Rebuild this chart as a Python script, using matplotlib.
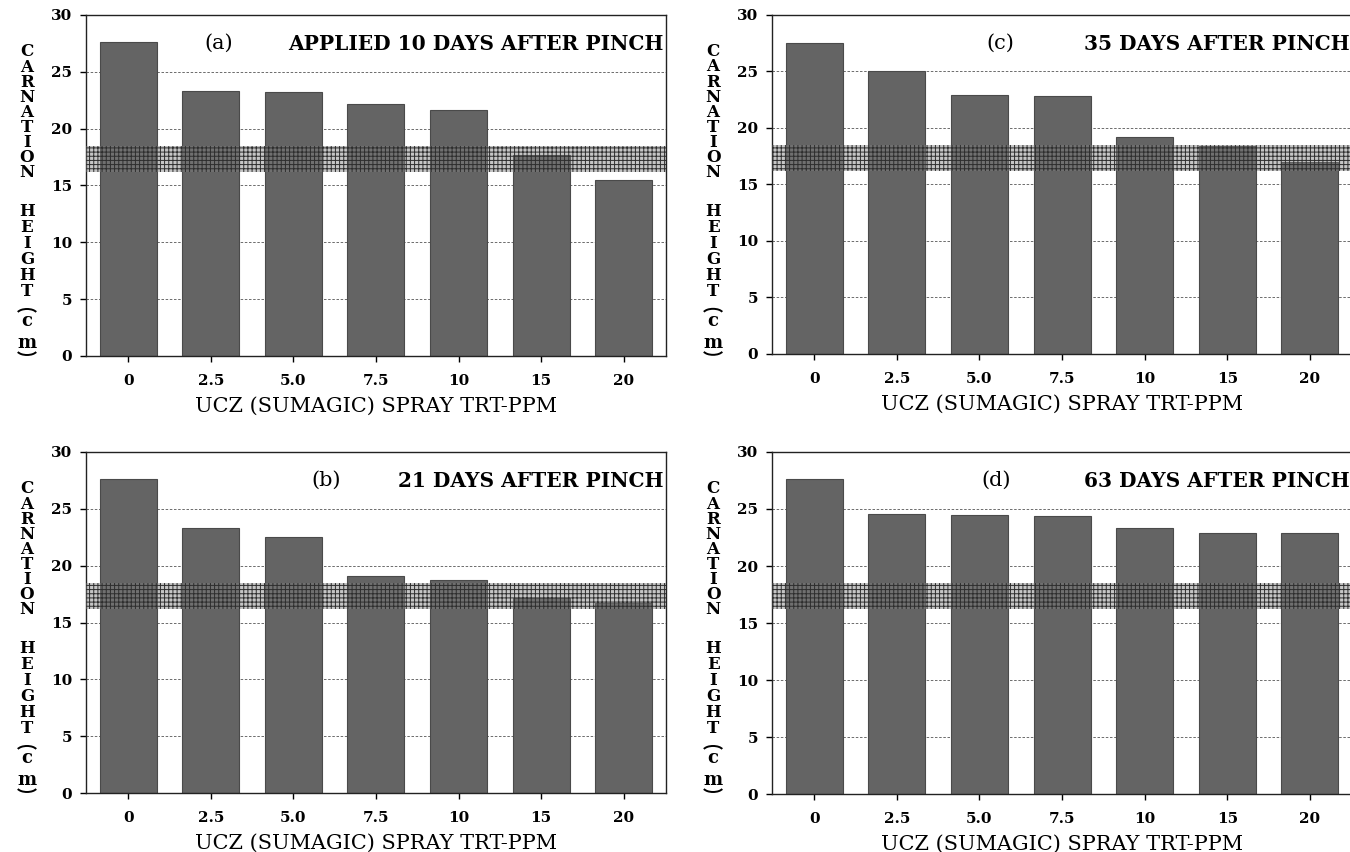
import matplotlib
matplotlib.use("Agg")
import matplotlib.pyplot as plt
from matplotlib.patches import Arc
import numpy as np

plt.rcParams['font.family'] = ['DejaVu Serif']
plt.rcParams['hatch.linewidth'] = 0.7

categories = ["0", "2.5", "5.0", "7.5", "10", "15", "20"]
heights_a = [27.6, 23.3, 23.2, 22.2, 21.6, 17.7, 15.5]
heights_b = [27.6, 23.3, 22.5, 19.1, 18.7, 17.2, 16.7]
heights_c = [27.5, 25.0, 22.9, 22.8, 19.2, 18.4, 17.0]
heights_d = [27.6, 24.6, 24.5, 24.4, 23.3, 22.9, 22.9]
band_low, band_high = 16.2, 18.5
y_ticks = [0, 5, 10, 15, 20, 25, 30]

panels = [
    ("(a)", "APPLIED 10 DAYS AFTER PINCH", heights_a, [0.0637, 0.5822, 0.4296, 0.4002], 1.1),
    ("(c)", "35 DAYS AFTER PINCH", heights_c, [0.5719, 0.5846, 0.4296, 0.3980], 2.25),
    ("(b)", "21 DAYS AFTER PINCH", heights_b, [0.0637, 0.0692, 0.4296, 0.4003], 2.4),
    ("(d)", "63 DAYS AFTER PINCH", heights_d, [0.5719, 0.0680, 0.4296, 0.4015], 2.2),
]

fig = plt.figure(figsize=(13.5, 8.52), dpi=100)

xlabel = "UCZ (SUMAGIC) SPRAY TRT-PPM"

for tag, title, vals, rect, tagx in panels:
    ax = fig.add_axes(rect)
    x = np.arange(len(categories))
    ax.bar(x, vals, width=0.69, color='#646464', edgecolor='#4a4a4a',
           linewidth=0.8, zorder=2)
    ax.axhspan(band_low, band_high, facecolor=(0.5, 0.5, 0.5, 0.45),
               edgecolor='#2e2e2e', hatch='++++', linewidth=0, zorder=3)
    ax.set_xlim(-0.51, 6.51)
    ax.set_ylim(0, 30)
    ax.set_yticks(y_ticks)
    ax.set_xticks(x)
    ax.set_xticklabels(categories)
    ax.yaxis.grid(True, linestyle=(0, (3, 2)), linewidth=0.6, color='#555555')
    ax.set_axisbelow(True)
    ax.tick_params(axis='both', direction='out', length=4, width=1,
                   labelsize=11, pad=6)
    ax.tick_params(axis='x', pad=9)
    for lab in ax.get_xticklabels() + ax.get_yticklabels():
        lab.set_fontweight('bold')
    for sp in ax.spines.values():
        sp.set_linewidth(1.0)
        sp.set_color('#222222')
    ax.set_xlabel(xlabel, fontsize=15, labelpad=6)
    ax.text(tagx, 27.5, tag, fontsize=15, ha='center', va='center')
    ax.text(0.995, 0.915, title, transform=ax.transAxes, fontsize=14.5,
            ha='right', va='center', fontweight='semibold')

    # stacked vertical y label
    ax_w_px = rect[2] * 1350
    ax_h_px = rect[3] * 852
    def yfrac(px_from_top):
        return 1 - px_from_top / ax_h_px
    lx = -59 / ax_w_px
    word1 = "CARNATION"
    word2 = "HEIGHT"
    for i, ch in enumerate(word1):
        ax.text(lx, yfrac(37 + 15.1 * i), ch, transform=ax.transAxes,
                fontsize=12, fontweight='bold', ha='center', va='center')
    for i, ch in enumerate(word2):
        ax.text(lx, yfrac(197 + 16 * i), ch, transform=ax.transAxes,
                fontsize=12, fontweight='bold', ha='center', va='center')
    ax.text(lx, yfrac(306), "c", transform=ax.transAxes, fontsize=13,
            fontweight='bold', ha='center', va='center')
    ax.text(lx, yfrac(328), "m", transform=ax.transAxes, fontsize=13,
            fontweight='bold', ha='center', va='center')
    arc_w = 20 / ax_w_px
    arc_h = 10 / ax_h_px
    ax.add_patch(Arc((lx, yfrac(299)), arc_w, arc_h, theta1=20, theta2=160,
                     transform=ax.transAxes, clip_on=False, lw=1.4, color='black'))
    ax.add_patch(Arc((lx, yfrac(335)), arc_w, arc_h, theta1=200, theta2=340,
                     transform=ax.transAxes, clip_on=False, lw=1.4, color='black'))

fig.savefig("out.png", dpi=100)
